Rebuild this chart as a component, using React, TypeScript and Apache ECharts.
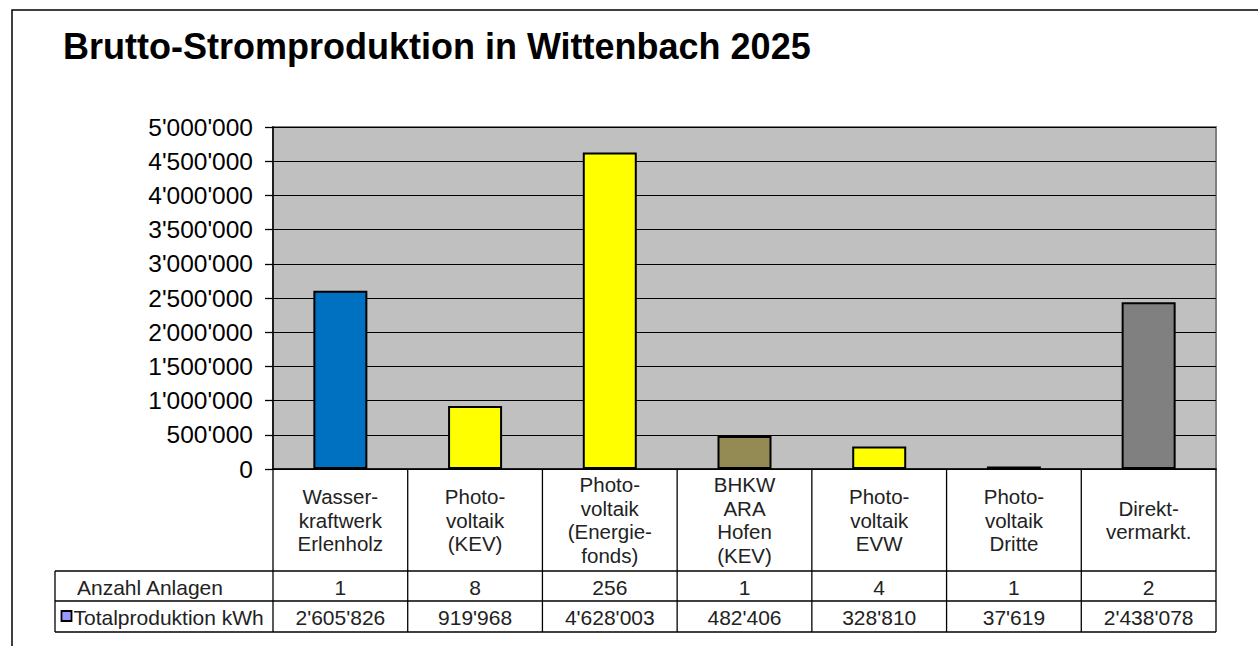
import React, { useEffect, useRef } from "react";
import * as echarts from "echarts";

const title = "Brutto-Stromproduktion in Wittenbach 2025";
const categories = [
  "Wasser-\nkraftwerk\nErlenholz",
  "Photo-\nvoltaik\n(KEV)",
  "Photo-\nvoltaik\n(Energie-\nfonds)",
  "BHKW\nARA\nHofen\n(KEV)",
  "Photo-\nvoltaik\nEVW",
  "Photo-\nvoltaik\nDritte",
  "Direkt-\nvermarkt.",
];
const anzahlAnlagen = [1, 8, 256, 1, 4, 1, 2];
const totalProduktion = [2605826, 919968, 4628003, 482406, 328810, 37619, 2438078];
const barColors = ["#0070C0", "#FFFF00", "#FFFF00", "#948A54", "#FFFF00", "#FFFF00", "#808080"];
const rowLabels = ["Anzahl Anlagen", "Totalproduktion kWh"];
const yMax = 5000000;
const yStep = 500000;

const fmt = (v: number) => String(Math.round(v)).replace(/\B(?=(\d{3})+(?!\d))/g, "'");

const W = 1258;
const H = 646;
const PL = 273;
const PR = 1216;
const PT = 127;
const PB = 469;
const TAB_L = 55;
const ROW1 = 571;
const ROW2 = 601;
const ROW3 = 632;
const FONT = "Liberation Sans, Arial, sans-serif";

export default function App() {
  const ref = useRef<HTMLDivElement>(null);
  useEffect(() => {
    if (!ref.current) return;
    const chart = echarts.init(ref.current, null, { renderer: "svg" });
    const n = categories.length;
    const cw = (PR - PL) / n;
    const graphics: any[] = [];
    graphics.push({
      type: "rect",
      shape: { x: 12, y: 10, width: 1260, height: 660 },
      style: { fill: "none", stroke: "#000", lineWidth: 1.5 },
      z: 100,
    });
    graphics.push({
      type: "text",
      x: 63,
      y: 46,
      style: { text: title, font: `bold 36px ${FONT}`, fill: "#000", verticalAlign: "middle" },
    });
    const line = (x1: number, y1: number, x2: number, y2: number) =>
      graphics.push({
        type: "line",
        shape: { x1, y1, x2, y2 },
        style: { stroke: "#000", lineWidth: 1.3 },
        z: 50,
      });
    [ROW1, ROW2, ROW3].forEach((y) => line(TAB_L, y, PR, y));
    line(TAB_L, ROW1, TAB_L, ROW3);
    for (let i = 0; i <= n; i++) {
      const x = PL + i * cw;
      line(x, PB, x, ROW3);
    }
    graphics.push({
      type: "text",
      x: 77,
      y: (ROW1 + ROW2) / 2 + 1,
      style: { text: rowLabels[0], font: `21px ${FONT}`, fill: "#222", verticalAlign: "middle" },
    });
    graphics.push({
      type: "rect",
      shape: { x: 61.5, y: 611, width: 10, height: 10 },
      style: { fill: "#9999FF", stroke: "#000", lineWidth: 1.8 },
    });
    graphics.push({
      type: "text",
      x: 73.5,
      y: (ROW2 + ROW3) / 2 + 1,
      style: { text: rowLabels[1], font: `21px ${FONT}`, fill: "#222", verticalAlign: "middle" },
    });
    for (let i = 0; i < n; i++) {
      const cx = PL + (i + 0.5) * cw;
      graphics.push({
        type: "text",
        x: cx,
        y: (ROW1 + ROW2) / 2 + 1,
        style: { text: String(anzahlAnlagen[i]), font: `21px ${FONT}`, fill: "#222", align: "center", verticalAlign: "middle" },
      });
      graphics.push({
        type: "text",
        x: cx,
        y: (ROW2 + ROW3) / 2 + 1,
        style: { text: fmt(totalProduktion[i]), font: `21px ${FONT}`, fill: "#222", align: "center", verticalAlign: "middle" },
      });
    }

    chart.setOption({
      animation: false,
      backgroundColor: "#fff",
      grid: {
        left: PL,
        right: W - PR,
        top: PT,
        bottom: H - PB,
        show: true,
        backgroundColor: "#C0C0C0",
        borderColor: "#808080",
        borderWidth: 2,
      },
      xAxis: {
        type: "category",
        data: categories,
        axisLine: { show: true, lineStyle: { color: "#000", width: 1.5 } },
        axisTick: { show: false },
        axisLabel: {
          interval: 0,
          margin: 51,
          verticalAlign: "middle",
          align: "center",
          lineHeight: 23.5,
          fontSize: 20.5,
          fontFamily: FONT,
          color: "#222",
        },
      },
      yAxis: {
        type: "value",
        min: 0,
        max: yMax,
        interval: yStep,
        axisLine: { show: true, lineStyle: { color: "#000", width: 1.5 } },
        axisTick: { show: true, inside: false, length: 8, lineStyle: { color: "#000", width: 1.3 } },
        splitLine: { show: true, lineStyle: { color: "#000", width: 1.2 } },
        axisLabel: {
          margin: 20,
          fontSize: 24.5,
          fontFamily: FONT,
          color: "#000",
          formatter: (v: number) => fmt(v),
        },
      },
      series: [
        {
          type: "bar",
          barWidth: 54,
          data: totalProduktion.map((v, i) => ({
            value: v,
            itemStyle: { color: barColors[i], borderColor: "#000", borderWidth: 2 },
          })),
        },
      ],
      graphic: graphics,
    });
    return () => chart.dispose();
  }, []);
  return (
    <div
      ref={ref}
      style={{ position: "fixed", left: 0, top: 0, width: W, height: H, background: "#fff" }}
    />
  );
}
